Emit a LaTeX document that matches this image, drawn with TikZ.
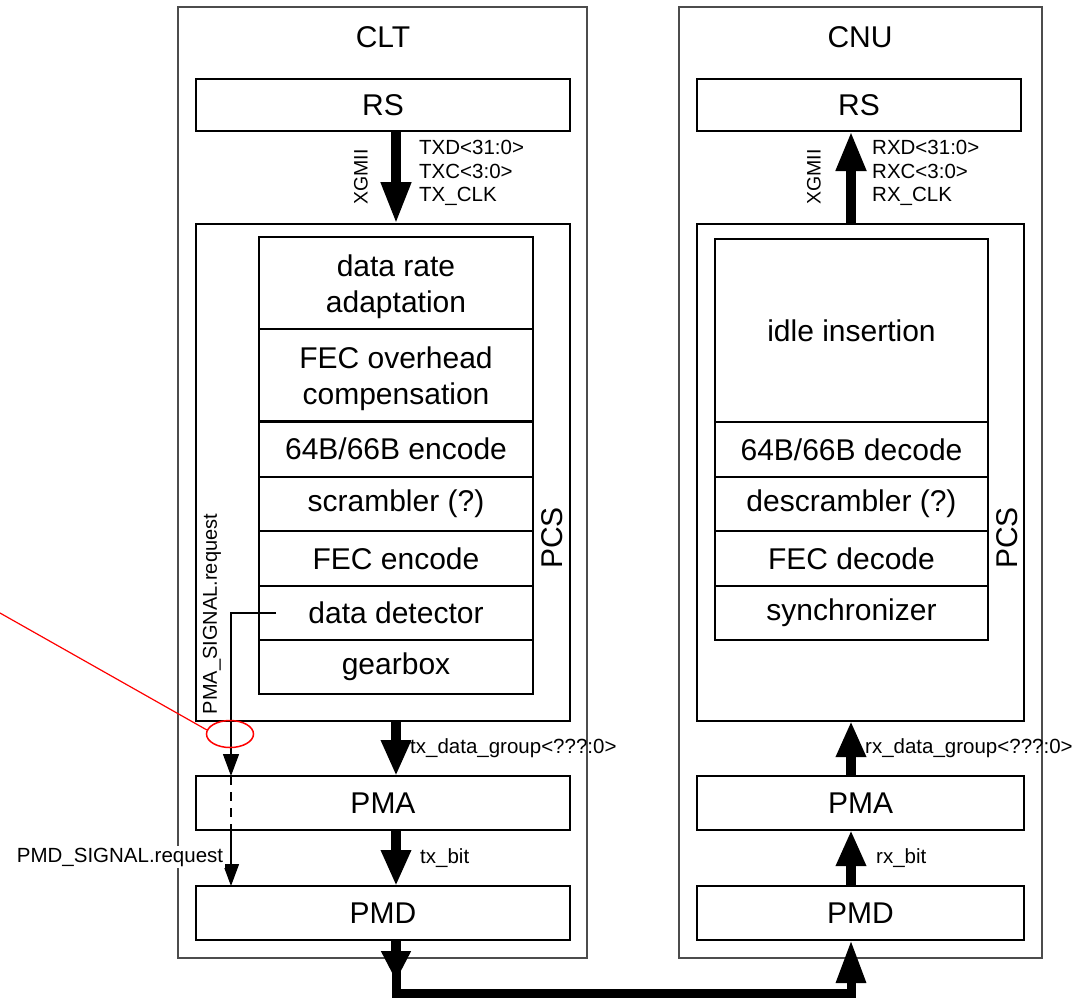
\documentclass[tikz,border=0pt]{standalone}
\usepackage{fontspec}
\setmainfont{Liberation Sans}
\usetikzlibrary{arrows.meta,calc,shapes.geometric}
\newcommand\bigfont{\fontsize{30}{36}\selectfont}
\newcommand\smallfont{\fontsize{20.5}{23.5}\selectfont}
\newcommand\blkbox[7][]{\node[blk,#1,minimum width={(#5-#3)*1pt},minimum height={(#6-#4)*1pt}] (#2) at ({(#3+#5)/2},{(#4+#6)/2}) {#7};}
\begin{document}
\begin{tikzpicture}[x=1pt,y=-1pt,
  outerbox/.style={draw=black!70,line width=1.6pt,inner sep=0pt,outer sep=0pt},
  blk/.style={draw,line width=1.5pt,inner sep=0pt,outer sep=0pt,font=\bigfont,align=center},
  big/.style={font=\bigfont,inner sep=0pt},
  sml/.style={font=\smallfont,inner sep=0pt,align=left},
  fat/.style={line width=10pt,-{Triangle[length=#1,width=28pt]}},
  fat/.default=36pt,
  thinarr/.style={line width=1.3pt,-{Triangle[length=22pt,width=16pt]}},
]
\useasboundingbox (0,0) rectangle (1081,997);

% outer boxes
\blkbox[outerbox]{clt}{178}{7}{587}{958}{}
\blkbox[outerbox]{cnu}{679}{7}{1042}{958}{}
\node[big] (cltlab) at (383,37) {CLT};
\node[big] (cnulab) at (860,37) {CNU};

% RS
\blkbox{rsL}{196}{79}{570}{131}{RS}
\blkbox{rsR}{697}{79}{1021}{131}{RS}

% PCS frames
\blkbox{pcsL}{196}{224}{570}{721}{}
\blkbox{pcsR}{697}{224}{1024}{721}{}
\node[big,rotate=90] (pcsLlab) at (552,538) {PCS};
\node[big,rotate=90] (pcsRlab) at (1007,538) {PCS};

% CLT stack
\blkbox{r1}{259}{237}{533}{329}{}
\blkbox{r2}{259}{329}{533}{421}{}
\node[big,align=center] (r1t) at ($(r1.center)+(0,4)$) {data rate\\adaptation};
\node[big,align=center] (r2t) at ($(r2.center)+(0,4)$) {FEC overhead\\compensation};
\blkbox{r3}{259}{421}{533}{477}{64B/66B encode}
\blkbox{r4}{259}{477}{533}{531}{scrambler (?)}
\blkbox{r5}{259}{531}{533}{586}{FEC encode}
\blkbox{r6}{259}{586}{533}{640}{data detector}
\blkbox{r7}{259}{640}{533}{694}{gearbox}
\draw[line width=3pt] (r2.south west) -- (r2.south east);

% CNU stack
\blkbox{s1}{715}{239}{988}{422}{idle insertion}
\blkbox{s2}{715}{422}{988}{477}{64B/66B decode}
\blkbox{s3}{715}{477}{988}{531}{descrambler (?)}
\blkbox{s4}{715}{531}{988}{586}{FEC decode}
\blkbox{s5}{715}{586}{988}{640}{synchronizer}

% PMA / PMD
\blkbox{pmaL}{196}{776}{570}{830}{PMA}
\blkbox{pmdL}{196}{886}{570}{940}{PMD}
\blkbox{pmaR}{697}{776}{1024}{830}{PMA}
\blkbox{pmdR}{697}{886}{1024}{940}{PMD}

% arrow axes
\coordinate (axL) at (396,0);
\coordinate (axR) at (851,0);

% CLT thick arrows
\draw[fat=42pt] (rsL.south -| axL) -- (pcsL.north -| axL);
\draw[fat] (pcsL.south -| axL) -- (pmaL.north -| axL);
\draw[fat] (pmaL.south -| axL) -- (pmdL.north -| axL);

% CNU thick arrows
\draw[fat=40pt] (pcsR.north -| axR) -- (rsR.south -| axR);
\draw[fat] (pmaR.north -| axR) -- (pcsR.south -| axR);
\draw[fat] (pmdR.north -| axR) -- (pmaR.south -| axR);

% bottom link
\draw[line width=9pt,line join=miter,-{Triangle[length=43pt,width=28pt]}]
  (pmdL.south -| axL) -- ++(0,53) -| (pmdR.south -| axR);
\coordinate (linkhead) at (396,981);
\draw[fat=30pt] (pmdL.south -| axL) -- (linkhead);

% small labels
\node[sml,anchor=west] (txlab) at (419,173) {TXD<31:0>\\TXC<3:0>\\TX\_CLK};
\node[sml,anchor=west] (rxlab) at (872,173) {RXD<31:0>\\RXC<3:0>\\RX\_CLK};
\node[font=\fontsize{19.5}{22}\selectfont,inner sep=0pt,rotate=90] (xgL) at (361,177) {XGMII};
\node[font=\fontsize{19.5}{22}\selectfont,inner sep=0pt,rotate=90] (xgR) at (814,177) {XGMII};
\node[sml,anchor=west] (txdg) at (410,748) {tx\_data\_group<???:0>};
\node[sml,anchor=west] (rxdg) at (865,748) {rx\_data\_group<???:0>};
\node[sml,anchor=west] (txbit) at (420,858) {tx\_bit};
\node[sml,anchor=west] (rxbit) at (876,858) {rx\_bit};

% signal path
\coordinate (dd) at (276,613);
\coordinate (sigx) at (231,0);
\node[font=\fontsize{20}{23}\selectfont,inner sep=0pt,rotate=90] (pmasig) at (212,614) {PMA\_SIGNAL.request};
\draw[thinarr] (dd) -- (dd -| sigx) -- (sigx |- pmaL.north);
\draw[line width=1.3pt,dash pattern=on 9pt off 7pt] (sigx |- pmaL.north) -- (sigx |- pmaL.south);
\draw[thinarr] (sigx |- pmaL.south) -- (sigx |- pmdL.north);
\node[sml,fill=white,inner sep=2pt] (pmdsig) at (120,857) {PMD\_SIGNAL.request};

% red annotation
\node[draw=red,line width=1.5pt,ellipse,minimum width=47pt,minimum height=27pt,inner sep=0pt] (mark) at (230,734) {};
\coordinate (redstart) at (0,613);
\draw[red,line width=1.2pt] (redstart) -- (mark.170);
\end{tikzpicture}
\end{document}
